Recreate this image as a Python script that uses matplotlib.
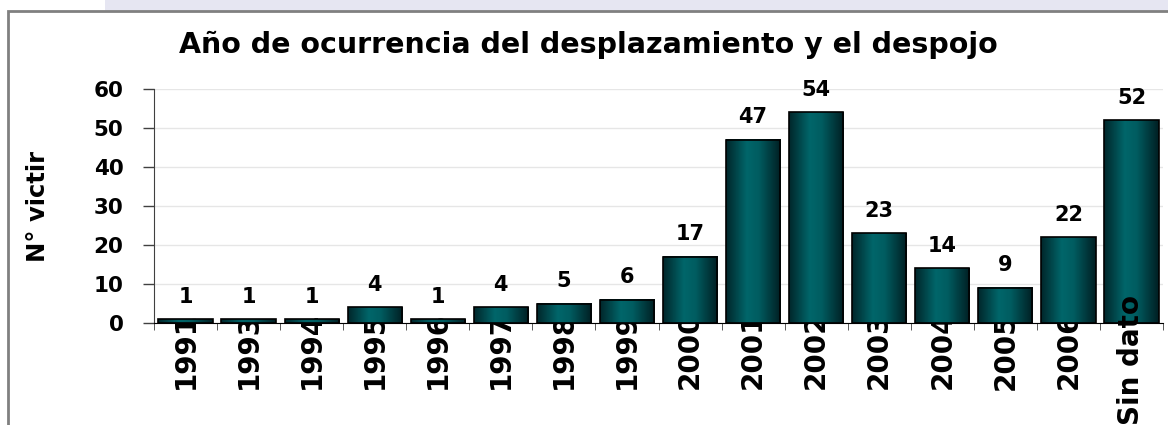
import numpy as np
import matplotlib
matplotlib.use('Agg')
import matplotlib.pyplot as plt
from matplotlib.patches import Rectangle
from matplotlib.colors import LinearSegmentedColormap

# Datos del gráfico
anios = ['1991', '1993', '1994', '1995', '1996', '1997', '1998', '1999',
         '2000', '2001', '2002', '2003', '2004', '2005', '2006', 'Sin dato']
victimas = [1, 1, 1, 4, 1, 4, 5, 6, 17, 47, 54, 23, 14, 9, 22, 52]
yticks = [0, 10, 20, 30, 40, 50, 60]

plt.rcParams['font.family'] = ['DejaVu Sans']
plt.rcParams['font.weight'] = 'bold'

W, H = 1168, 425
fig = plt.figure(figsize=(W / 100, H / 100), dpi=100)

# franja de fondo arriba y marco gris
fig.patches.append(Rectangle((105 / W, 1 - 11 / H), 1, 1, transform=fig.transFigure,
                             facecolor='#e6e6f2', edgecolor='none', zorder=0))
fig.patches.append(Rectangle((8 / W, -0.2), 1.2, 1.2 - 11 / H, transform=fig.transFigure,
                             facecolor='white', edgecolor='#808080', linewidth=2, zorder=0.5))

ax = fig.add_axes([154 / W, 102 / H, 1009 / W, 234 / H])
ax.set_zorder(2)
ax.set_facecolor('none')

# degradado de las barras
cmap = LinearSegmentedColormap.from_list('teal', [(0, '#00272b'), (0.38, '#00666a'),
                                                  (0.6, '#005c60'), (1, '#001f23')])
grad = np.linspace(0, 1, 100).reshape(1, -1)
ancho = 0.86
x = np.arange(len(anios))
for xi, v in zip(x, victimas):
    ax.imshow(grad, extent=[xi - ancho / 2, xi + ancho / 2, 0, v], aspect='auto',
              cmap=cmap, zorder=2, interpolation='bilinear')
    ax.add_patch(Rectangle((xi - ancho / 2, 0), ancho, v, facecolor='none',
                           edgecolor='black', linewidth=1.2, zorder=3))
    ax.annotate(str(v), (xi, v), xytext=(0, 9), textcoords='offset points',
                ha='center', va='bottom', fontsize=15, fontweight='bold')

ax.set_xlim(-0.5, len(anios) - 0.5)
ax.set_ylim(0, 60)
ax.set_yticks(yticks)
ax.yaxis.grid(True, color='#e6e6e6', linewidth=1)
ax.set_axisbelow(True)
ax.tick_params(axis='y', length=8, width=1, color='#404040', pad=14, labelsize=15.5)

# etiquetas del eje x (la última, "Sin dato", va más arriba como en el original)
ax.set_xticks(x)
ax.set_xticklabels(anios[:-1] + [''], rotation=90, fontsize=20, fontweight='bold')
ax.set_xticks(np.arange(-0.5, len(anios)), minor=True)
ax.tick_params(axis='x', which='major', length=0, pad=-8)
ax.tick_params(axis='x', which='minor', length=5, color='#404040')
ax.text(x[-1], 0.12, anios[-1], transform=ax.get_xaxis_transform(), rotation=90,
        ha='center', va='top', fontsize=20, fontweight='bold', zorder=4, clip_on=False)

for s in ['top', 'right']:
    ax.spines[s].set_visible(False)
ax.spines['left'].set_color('#404040')
ax.spines['bottom'].set_color('black')

fig.text(588 / W, 1 - 45 / H, 'Año de ocurrencia del desplazamiento y el despojo',
         ha='center', va='center', fontsize=20.5, fontweight='bold', zorder=3)
fig.text(38 / W, 1 - 206 / H, 'N° victir', rotation=90, ha='center', va='center',
         fontsize=17.5, fontweight='bold', zorder=3)

fig.savefig('out.png', dpi=100)
